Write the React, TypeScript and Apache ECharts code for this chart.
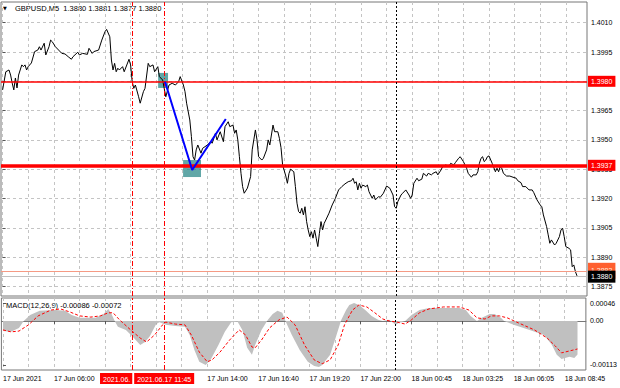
import React, { useEffect, useRef } from 'react';
import * as echarts from 'echarts';

// ---- time axis (bar index of M5 bars, tick every 32 bars) ----
const TIME_TICKS = [0, 32, 64, 96, 128, 160, 192, 224, 256, 288, 320, 352];
const TIME_LABELS = ['17 Jun 2021', '17 Jun 06:00', '', '', '17 Jun 14:00', '17 Jun 16:40', '17 Jun 19:20', '17 Jun 22:00', '18 Jun 00:45', '18 Jun 03:25', '18 Jun 06:05', '18 Jun 08:45'];
const TIME_GRID = [0, 16, 32, 48, 64, 80, 96, 112, 128, 144, 160, 176, 192, 208, 224, 240, 256, 272, 288, 304, 320, 336, 352];

// ---- price axis ----
const PRICE_TICKS = [1.3875, 1.389, 1.3905, 1.392, 1.3935, 1.395, 1.3965, 1.398, 1.3995, 1.401];
const MACD_TICKS = [-0.00113, 0, 0.00046];

// ---- GBPUSD M5 close (bar, price) ----
const PRICE: [number, number][] = [
  [0, 1.39756], [2, 1.39849], [4, 1.39858], [5, 1.39832], [6, 1.39791], [7, 1.39756], [8, 1.39817], [9, 1.39766], [10, 1.39832], [11, 1.39858], [12, 1.39884], [13, 1.39875], [14, 1.39884], [15, 1.39858], [16, 1.39875], [18, 1.39894], [20, 1.39952], [22, 1.3996], [23, 1.39977], [24, 1.3996], [26, 1.39995], [27, 1.39935], [29, 1.39977], [30, 1.40011], [31, 1.40003], [33, 1.39977], [35, 1.3996], [37, 1.39943], [39, 1.3994], [41, 1.39926], [43, 1.39913], [44, 1.39926], [47, 1.39949], [48, 1.39935], [50, 1.39943], [53, 1.39938], [54, 1.39969], [56, 1.39943], [57, 1.39952], [60, 1.3996], [62, 1.40011], [64, 1.40054], [65, 1.40066], [67, 1.40028], [68, 1.39909], [69, 1.39858], [70, 1.39892], [71, 1.39849], [72, 1.39867], [73, 1.39858], [75, 1.39875], [76, 1.39849], [79, 1.39913], [80, 1.39884], [81, 1.39798], [82, 1.39764], [83, 1.39781], [85, 1.39721], [86, 1.39688], [88, 1.39747], [89, 1.39764], [91, 1.39892], [92, 1.39875], [94, 1.39884], [95, 1.39849], [97, 1.39875], [98, 1.39824], [100, 1.39807], [102, 1.39721], [104, 1.39781], [106, 1.3979], [108, 1.39781], [110, 1.39798], [111, 1.39824], [113, 1.39781], [114, 1.39747], [115, 1.39688], [117, 1.39602], [118, 1.39517], [119, 1.39414], [120, 1.39397], [121, 1.39449], [122, 1.39474], [124, 1.39432], [125, 1.39457], [128, 1.39474], [130, 1.39491], [131, 1.39483], [133, 1.39534], [134, 1.395], [136, 1.39542], [138, 1.39491], [139, 1.39568], [141, 1.39593], [142, 1.39568], [144, 1.39576], [145, 1.39534], [146, 1.39551], [147, 1.395], [148, 1.39414], [149, 1.39329], [150, 1.39261], [151, 1.39227], [153, 1.39253], [155, 1.39312], [156, 1.39449], [158, 1.39551], [159, 1.395], [160, 1.39414], [162, 1.39397], [163, 1.39406], [165, 1.39449], [166, 1.395], [167, 1.39474], [169, 1.39576], [170, 1.39542], [172, 1.39542], [173, 1.39508], [174, 1.39461], [175, 1.39372], [177, 1.39315], [178, 1.39278], [179, 1.39329], [180, 1.3935], [182, 1.39337], [183, 1.39261], [184, 1.39176], [185, 1.39133], [186, 1.39125], [187, 1.3915], [188, 1.39116], [189, 1.39158], [190, 1.39082], [191, 1.39039], [192, 1.39005], [193, 1.3903], [194, 1.38997], [195, 1.39039], [196, 1.38997], [197, 1.38954], [198, 1.39022], [199, 1.39082], [200, 1.39039], [201, 1.39073], [202, 1.3909], [204, 1.39125], [206, 1.39167], [208, 1.39201], [210, 1.39244], [212, 1.39261], [214, 1.39275], [216, 1.39286], [218, 1.39291], [219, 1.39304], [220, 1.39278], [221, 1.39286], [222, 1.39244], [223, 1.39278], [224, 1.39253], [225, 1.39269], [227, 1.39261], [228, 1.39269], [229, 1.39235], [231, 1.39201], [232, 1.39218], [233, 1.39193], [235, 1.3921], [236, 1.39206], [238, 1.39227], [240, 1.39264], [242, 1.39253], [244, 1.39218], [245, 1.39158], [246, 1.3915], [247, 1.39184], [249, 1.39218], [250, 1.39227], [252, 1.39244], [254, 1.39218], [255, 1.39201], [256, 1.39218], [257, 1.39278], [259, 1.39304], [260, 1.39291], [262, 1.39299], [263, 1.39329], [265, 1.39315], [266, 1.39329], [268, 1.39321], [269, 1.39329], [271, 1.39337], [272, 1.39321], [274, 1.39346], [275, 1.39363], [277, 1.39372], [279, 1.39363], [280, 1.3938], [282, 1.39372], [283, 1.39384], [285, 1.39406], [286, 1.39414], [288, 1.39389], [289, 1.39372], [290, 1.39355], [291, 1.39329], [293, 1.39309], [294, 1.39321], [296, 1.39321], [297, 1.39337], [298, 1.3938], [299, 1.39406], [300, 1.39414], [301, 1.39389], [302, 1.39397], [303, 1.39414], [304, 1.39418], [306, 1.3938], [308, 1.39337], [309, 1.39355], [310, 1.39337], [311, 1.39363], [312, 1.39355], [313, 1.39329], [315, 1.39315], [317, 1.39315], [319, 1.39309], [321, 1.39304], [322, 1.39291], [324, 1.39281], [325, 1.39261], [327, 1.39261], [329, 1.39244], [331, 1.39244], [332, 1.3923], [334, 1.39193], [336, 1.39167], [337, 1.39158], [338, 1.39116], [340, 1.39056], [341, 1.39014], [342, 1.38971], [343, 1.38988], [345, 1.38962], [346, 1.38971], [348, 1.39005], [349, 1.39039], [350, 1.39048], [351, 1.39005], [352, 1.38954], [354, 1.38945], [355, 1.38937], [356, 1.38851], [357, 1.3886], [358, 1.38826], [359, 1.38804]
];

// ---- MACD(12,26,9) main (histogram) and signal ----
const MACD_MAIN: [number, number][] = [
  [0, -0.00026], [5, -0.00028], [10, -0.00018], [13, 0], [17, 0.00015], [23, 0.00026], [33, 0.00028], [39, 0.00026], [43, 0.00015], [48, 0.00008], [58, 0.00008], [63, 0.00018], [66, 0.00031], [68, 0.00018], [70, 0], [72, -0.00015], [77, -0.00023], [81, -0.00039], [86, -0.00062], [89, -0.00054], [92, -0.00039], [96, -0.00008], [98, -0.00003], [102, -0.0001], [108, -0.00013], [114, -0.00015], [117, -0.00036], [120, -0.00075], [123, -0.00105], [127, -0.00113], [130, -0.001], [135, -0.00062], [139, -0.00028], [143, -0.00003], [147, -0.00002], [150, -0.00023], [153, -0.00069], [156, -0.00087], [158, -0.00062], [162, -0.00023], [166, 0.00003], [169, 0.00018], [172, 0.00026], [175, 0.00021], [177, 0], [181, -0.00036], [186, -0.00075], [191, -0.00105], [195, -0.00116], [198, -0.00118], [200, -0.00113], [205, -0.00087], [208, -0.00049], [212, 0.00003], [215, 0.00028], [217, 0.00041], [220, 0.00046], [223, 0.00041], [227, 0.00028], [231, 0.00013], [235, 0.00003], [238, 0], [242, 0.00003], [246, -0.0001], [248, -0.00005], [252, 0], [256, 0.00015], [261, 0.00028], [267, 0.00033], [276, 0.00033], [286, 0.00033], [290, 0.00028], [293, 0.00013], [297, 0], [300, 0.00008], [305, 0.00018], [308, 0.00018], [312, 0.00008], [314, 0], [320, -0.0001], [330, -0.00023], [339, -0.00036], [344, -0.00062], [347, -0.00087], [350, -0.00098], [355, -0.00092], [358, -0.00095], [360, -0.00086]
];
const MACD_SIGNAL: [number, number][] = [
  [0, -0.00023], [5, -0.00028], [10, -0.00026], [16, -0.0001], [22, 0.00013], [30, 0.00028], [36, 0.00031], [42, 0.00023], [48, 0.00013], [55, 0.0001], [61, 0.00013], [66, 0.00021], [69, 0.00021], [73, 0.00003], [80, -0.00023], [86, -0.00044], [90, -0.00054], [95, -0.00036], [100, -0.0001], [102, -0.00003], [108, -0.00008], [114, -0.0001], [118, -0.00036], [123, -0.0008], [128, -0.00105], [131, -0.001], [136, -0.0008], [142, -0.00049], [148, -0.00023], [152, -0.00036], [156, -0.00067], [158, -0.00069], [162, -0.00049], [167, -0.00018], [173, 0.00003], [178, 0.0001], [183, -0.0001], [189, -0.00062], [195, -0.001], [200, -0.0011], [205, -0.001], [210, -0.00062], [214, -0.0001], [219, 0.00028], [223, 0.00041], [228, 0.00036], [233, 0.00021], [238, 0.00005], [242, 0], [247, -0.00003], [252, -0.00008], [256, 0.00003], [261, 0.00021], [267, 0.00031], [276, 0.00036], [286, 0.00036], [292, 0.00028], [297, 0.00008], [302, 0.00005], [306, 0.00013], [311, 0.00013], [316, 0.00008], [323, -0.00005], [333, -0.00023], [341, -0.00044], [346, -0.00064], [350, -0.00082], [355, -0.00077], [360, -0.00072]
];

// ---- annotations ----
const RESISTANCE = 1.398;
const SUPPORT = 1.3937;
const ASK = 1.3883;
const BID = 1.388;
const SIGNAL_PATH: [number, number][] = [[101.5, 1.39798], [118.5, 1.39346], [139.5, 1.39607]];
const ENTRY_BOXES: [[number, number], [number, number]][] = [
  [[97.2, 1.39843], [103.4, 1.39766]],
  [[112.8, 1.39397], [124, 1.3931]]
];
const EVENT_BARS = [81, 101];
const EVENT_LABELS = ['2021.06.', '2021.06.17 11:45'];
const DAY_SEPARATOR = 246;
const TITLE = 'GBPUSD,M5  1.3880 1.3881 1.3877 1.3880';
const MACD_TITLE = 'MACD(12,26,9) -0.00086 -0.00072';

const FONT = 'Liberation Sans';
const GRID_LINE = { color: '#c4c4c4', type: [3, 3] as number[], width: 1 };
const RED_DASHDOT = { color: '#ff0000', type: [5, 2, 1, 2] as number[], width: 1 };

function priceLabel(bg: string, color: string, text: string, padding: number[] = [2, 3, 1, 3]) {
  return {
    show: true,
    position: 'end',
    distance: 1,
    formatter: text,
    backgroundColor: bg,
    color,
    fontSize: 7,
    fontFamily: FONT,
    padding,
    lineHeight: 8
  };
}

export default function App() {
  const ref = useRef<HTMLDivElement>(null);
  useEffect(() => {
    const chart = echarts.init(ref.current!, null, { renderer: 'svg' });
    const option: any = {
      animation: false,
      backgroundColor: '#ffffff',
      textStyle: { fontFamily: FONT },
      grid: [
        { left: 1, right: 33, top: 2, height: 294, show: true, borderColor: '#777', borderWidth: 1, backgroundColor: 'transparent' },
        { left: 1, right: 33, top: 298, height: 72, show: true, borderColor: '#777', borderWidth: 1, backgroundColor: 'transparent' }
      ],
      xAxis: [
        {
          type: 'value', gridIndex: 0, min: -1, max: 365.25,
          axisLine: { show: false }, axisLabel: { show: false },
          axisTick: { show: false, customValues: TIME_GRID },
          splitLine: { show: true, lineStyle: GRID_LINE }
        },
        {
          type: 'value', gridIndex: 1, min: -1, max: 365.25,
          axisLine: { show: true, lineStyle: { color: '#777' } },
          axisLabel: {
            show: true, customValues: TIME_TICKS, align: 'left', margin: 5,
            fontSize: 7, color: '#000', fontFamily: FONT,
            formatter: (v: number) => TIME_LABELS[TIME_TICKS.indexOf(v)] ?? ''
          },
          axisTick: { show: true, length: 3, customValues: TIME_TICKS, lineStyle: { color: '#555' } },
          splitLine: { show: false }
        },
        {
          type: 'value', gridIndex: 1, min: -1, max: 365.25,
          axisLine: { show: false }, axisLabel: { show: false },
          axisTick: { show: false, customValues: TIME_GRID },
          splitLine: { show: true, lineStyle: GRID_LINE }
        }
      ],
      yAxis: [
        {
          type: 'value', gridIndex: 0, position: 'right', min: 1.38701, max: 1.40206,
          axisLine: { show: false },
          axisLabel: {
            show: true, customValues: PRICE_TICKS, margin: 4, fontSize: 7, color: '#000', fontFamily: FONT,
            formatter: (v: number) => v.toFixed(4)
          },
          axisTick: { show: true, length: 3, customValues: PRICE_TICKS, lineStyle: { color: '#555' } },
          splitLine: { show: true, lineStyle: GRID_LINE }
        },
        {
          type: 'value', gridIndex: 1, position: 'right', min: -0.00126, max: 0.00059,
          axisLine: { show: false },
          axisLabel: {
            show: true, customValues: MACD_TICKS, margin: 4, fontSize: 7, color: '#000', fontFamily: FONT,
            formatter: (v: number) => (v === 0 ? '0.00' : v.toFixed(5))
          },
          axisTick: { show: true, length: 3, customValues: MACD_TICKS, lineStyle: { color: '#555' } },
          splitLine: { show: false }
        }
      ],
      series: [
        {
          name: 'GBPUSD', type: 'line', xAxisIndex: 0, yAxisIndex: 0, data: PRICE,
          symbol: 'none', lineStyle: { color: '#000', width: 1 }, z: 3,
          markLine: {
            silent: true, symbol: 'none', animation: false, precision: 6,
            data: [
              { yAxis: RESISTANCE, lineStyle: { color: '#ff0000', width: 1.5, type: 'solid' }, label: priceLabel('#ff0000', '#fff', RESISTANCE.toFixed(4)) },
              { yAxis: SUPPORT, lineStyle: { color: '#ff0000', width: 3.5, type: 'solid' }, label: priceLabel('#ff0000', '#fff', SUPPORT.toFixed(4)) },
              { yAxis: ASK, lineStyle: { color: '#f59a84', width: 1, type: 'solid' }, label: priceLabel('#ff6030', '#ffe8dc', ASK.toFixed(4), [0, 3, 8, 3]) },
              { yAxis: BID, lineStyle: { color: '#c0c0c0', width: 1, type: 'solid' }, label: priceLabel('#000000', '#fff', BID.toFixed(4), [3, 3, 1, 3]) },
              ...EVENT_BARS.map((b) => ({ xAxis: b, lineStyle: RED_DASHDOT, label: { show: false } })),
              { xAxis: DAY_SEPARATOR, lineStyle: { color: '#000', type: [2, 2], width: 1 }, label: { show: false } }
            ]
          }
        },
        {
          name: 'signal', type: 'line', xAxisIndex: 0, yAxisIndex: 0, data: SIGNAL_PATH,
          symbol: 'none', lineStyle: { color: '#0000ff', width: 2 }, z: 5,
          markArea: {
            silent: true,
            itemStyle: { color: 'rgba(30,130,130,0.7)' },
            data: ENTRY_BOXES.map(([a, b]) => [{ coord: a }, { coord: b }])
          }
        },
        {
          name: 'MACD', type: 'line', xAxisIndex: 1, yAxisIndex: 1, data: MACD_MAIN,
          symbol: 'none', lineStyle: { width: 0, color: '#c0c0c0' },
          areaStyle: { color: '#c0c0c0', opacity: 1, origin: 0 }, z: 2,
          markLine: {
            silent: true, symbol: 'none', animation: false, precision: 6,
            data: [
              ...EVENT_BARS.map((b, k) => ({
                xAxis: b, lineStyle: RED_DASHDOT,
                label: {
                  show: true, position: 'start', distance: 3, formatter: EVENT_LABELS[k],
                  align: k === 0 ? 'right' : 'center',
                  backgroundColor: '#ff0000', color: '#fff', fontSize: 7, fontFamily: FONT,
                  padding: k === 0 ? [2, 2, 1, 3] : [2, 3, 1, 3], lineHeight: 8
                }
              })),
              { xAxis: DAY_SEPARATOR, lineStyle: { color: '#000', type: [2, 2], width: 1 }, label: { show: false } }
            ]
          }
        },
        {
          name: 'Signal', type: 'line', xAxisIndex: 1, yAxisIndex: 1, data: MACD_SIGNAL,
          symbol: 'none', lineStyle: { color: '#ff0000', width: 1, type: [3, 2] }, z: 4
        }
      ],
      graphic: [
        { type: 'text', left: 3, top: 5, style: { text: '▼', fontSize: 5, fill: '#000', fontFamily: 'DejaVu Sans' } },
        { type: 'text', left: 15, top: 4, style: { text: TITLE, fontSize: 7.5, fill: '#000', fontFamily: FONT } },
        { type: 'text', left: 6, top: 301, style: { text: MACD_TITLE, fontSize: 7.5, fill: '#000', fontFamily: FONT } }
      ]
    };
    chart.setOption(option);
    return () => chart.dispose();
  }, []);
  return <div ref={ref} style={{ position: 'fixed', left: 0, top: 0, width: 620, height: 388, background: '#fff' }} />;
}
